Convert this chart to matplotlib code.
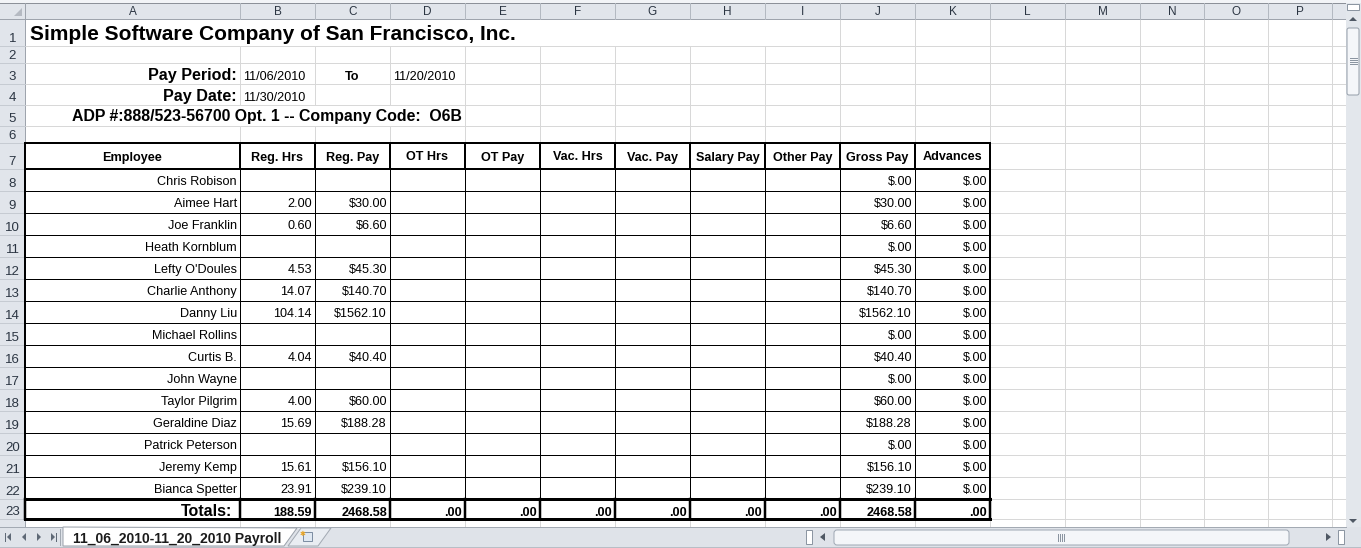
"""
payroll_sheet.py
----------------
Redraws the payroll worksheet screenshot (Excel 2010 look) with matplotlib.
"""

import matplotlib
matplotlib.use("Agg")
import matplotlib.pyplot as plt
from matplotlib.patches import Rectangle, Polygon, FancyBboxPatch

plt.rcParams["font.family"] = ["Liberation Sans", "DejaVu Sans"]

# ─── Sheet content ───────────────────────────────────────────────────────────
COMPANY      = "Simple Software Company of San Francisco, Inc."
PERIOD_START = "11/06/2010"
PERIOD_END   = "11/20/2010"
PAY_DATE     = "11/30/2010"
ADP_LINE     = "ADP #:888/523-56700 Opt. 1 -- Company Code:  O6B"
SHEET_NAME   = "11_06_2010-11_20_2010 Payroll"

COL_LETTERS = ["A", "B", "C", "D", "E", "F", "G", "H", "I", "J", "K",
               "L", "M", "N", "O", "P"]

HEADERS = ["Employee", "Reg. Hrs", "Reg. Pay", "OT Hrs", "OT Pay", "Vac. Hrs",
           "Vac. Pay", "Salary Pay", "Other Pay", "Gross Pay", "Advances"]

EMPLOYEES = ["Chris Robison", "Aimee Hart", "Joe Franklin", "Heath Kornblum",
             "Lefty O'Doules", "Charlie Anthony", "Danny Liu", "Michael Rollins",
             "Curtis B.", "John Wayne", "Taylor Pilgrim", "Geraldine Diaz",
             "Patrick Peterson", "Jeremy Kemp", "Bianca Spetter"]
REG_HRS   = [None, 2.00, 0.60, None, 4.53, 14.07, 104.14, None,
             4.04, None, 4.00, 15.69, None, 15.61, 23.91]
REG_PAY   = [None, 30.00, 6.60, None, 45.30, 140.70, 1562.10, None,
             40.40, None, 60.00, 188.28, None, 156.10, 239.10]
GROSS_PAY = [0.00, 30.00, 6.60, 0.00, 45.30, 140.70, 1562.10, 0.00,
             40.40, 0.00, 60.00, 188.28, 0.00, 156.10, 239.10]
ADVANCES  = [0.00, 0.00, 0.00, 0.00, 0.00, 0.00, 0.00, 0.00,
             0.00, 0.00, 0.00, 0.00, 0.00, 0.00, 0.00]
TOTALS    = [188.59, 2468.58, 0.00, 0.00, 0.00, 0.00, 0.00, 0.00, 2468.58, 0.00]

# ─── Layout (screen pixels) ──────────────────────────────────────────────────
W, H      = 1361, 548
COL_EDGES = [25, 240, 315, 390, 465, 540, 615, 690, 765, 840, 915, 990,
             1065, 1140, 1204, 1268, 1332]
ROW_EDGES = [19, 46, 63, 84, 105, 126, 143, 169, 191, 213, 235, 257, 279, 301,
             323, 345, 367, 389, 411, 433, 455, 477, 499, 519, 541]
SHEET_RIGHT = 1346
TAB_TOP     = 527
PX          = 0.72            # one pixel in points at dpi 100

GRID   = "#d8d8d8"
HDR_BG = "#e1e5eb"
HDR_LN = "#b3b9c1"
HDR_TX = "#2b3542"


def money(v):
    """Excel '$#.00' style: zero shows as $.00"""
    s = f"{v:.2f}"
    return "$" + (s.lstrip("0") if v < 1 else s)


def hours(v):
    return f"{v:.2f}"


def bare(v):
    s = f"{v:.2f}"
    return s.lstrip("0") if v < 1 else s


def cell_text(ax, col, row, s, ha="right", pad=3, off=6, **kw):
    left, right = COL_EDGES[col], COL_EDGES[col + 1]
    x = {"left": left + pad, "right": right - pad, "center": (left + right) / 2}[ha]
    y = ROW_EDGES[row] - off
    kw.setdefault("fontsize", 9.1)
    ax.text(x, y, s, ha=ha, va="baseline", color="black", zorder=5, **kw)


def draw_grid(ax):
    ax.add_patch(Rectangle((COL_EDGES[0], ROW_EDGES[0]), SHEET_RIGHT - COL_EDGES[0],
                           TAB_TOP - ROW_EDGES[0], facecolor="white", zorder=0))
    for y in ROW_EDGES[1:]:
        ax.plot([COL_EDGES[0], SHEET_RIGHT], [y, y], color=GRID, lw=PX, zorder=1)
    # merged / overflowing cells hide some vertical gridlines
    hidden = {1: COL_EDGES[1:9], 5: COL_EDGES[1:4]}
    for x in COL_EDGES[1:]:
        for r in range(1, len(ROW_EDGES)):
            if x in hidden.get(r, []):
                continue
            ax.plot([x, x], [ROW_EDGES[r - 1], ROW_EDGES[r]], color=GRID, lw=PX, zorder=1)


def draw_headers(ax):
    # column header strip
    ax.add_patch(Rectangle((0, 3), SHEET_RIGHT, ROW_EDGES[0] - 3,
                           facecolor=HDR_BG, edgecolor="none", zorder=2))
    ax.plot([0, W], [2.5, 2.5], color="#8c9199", lw=PX, zorder=3)
    ax.plot([0, SHEET_RIGHT], [ROW_EDGES[0], ROW_EDGES[0]], color="#9ea4ad", lw=PX, zorder=3)
    for i, letter in enumerate(COL_LETTERS):
        l, r = COL_EDGES[i], COL_EDGES[i + 1]
        ax.text((l + r) / 2, 15, letter, ha="center", va="baseline",
                fontsize=8.5, color=HDR_TX, zorder=4)
    for x in COL_EDGES:
        ax.plot([x, x], [3, ROW_EDGES[0]], color=HDR_LN, lw=PX, zorder=3)
    # row header strip
    ax.add_patch(Rectangle((0, 3), COL_EDGES[0], TAB_TOP - 3,
                           facecolor=HDR_BG, edgecolor="none", zorder=2))
    ax.plot([COL_EDGES[0], COL_EDGES[0]], [3, TAB_TOP], color="#9ea4ad", lw=PX, zorder=3)
    for r in range(1, len(ROW_EDGES)):
        ax.plot([0, COL_EDGES[0]], [ROW_EDGES[r], ROW_EDGES[r]], color="#c6cbd2",
                lw=PX, zorder=3)
        ax.text(COL_EDGES[0] / 2, ROW_EDGES[r] - 4, str(r), ha="center",
                va="baseline", fontsize=9.5, color=HDR_TX, zorder=4)
    # select-all corner triangle
    ax.add_patch(Polygon([(22, 8), (22, 16), (14, 16)], closed=True,
                         facecolor="#b5bac2", edgecolor="none", zorder=4))


def draw_top_block(ax):
    cell_text(ax, 0, 1, COMPANY, ha="left", pad=5, off=6, fontsize=15, fontweight="bold")
    cell_text(ax, 0, 3, "Pay Period:", off=4, fontsize=11.6, fontweight="bold")
    cell_text(ax, 1, 3, PERIOD_START, ha="left", off=4)
    cell_text(ax, 2, 3, "To", ha="center", off=4, fontweight="bold")
    cell_text(ax, 3, 3, PERIOD_END, ha="left", off=4)
    cell_text(ax, 0, 4, "Pay Date:", off=4, fontsize=11.6, fontweight="bold")
    cell_text(ax, 1, 4, PAY_DATE, ha="left", off=4)
    cell_text(ax, 3, 5, ADP_LINE, off=4.5, fontsize=11.4, fontweight="bold")


def draw_table(ax):
    head_row, first_row = 7, 8
    tot_row = first_row + len(EMPLOYEES)
    for c, h in enumerate(HEADERS):
        cell_text(ax, c, head_row, h, ha="center", off=8.5, fontweight="bold")
    for i, name in enumerate(EMPLOYEES):
        r = first_row + i
        cell_text(ax, 0, r, name)
        if REG_HRS[i] is not None:
            cell_text(ax, 1, r, hours(REG_HRS[i]))
        if REG_PAY[i] is not None:
            cell_text(ax, 2, r, money(REG_PAY[i]))
        cell_text(ax, 9, r, money(GROSS_PAY[i]))
        cell_text(ax, 10, r, money(ADVANCES[i]))
    cell_text(ax, 0, tot_row, "Totals:", pad=8, off=3.5, fontsize=11.5, fontweight="bold")
    for c, v in enumerate(TOTALS, start=1):
        cell_text(ax, c, tot_row, bare(v), off=3.5, fontweight="bold")

    left, right = COL_EDGES[0], COL_EDGES[len(HEADERS)]
    top = ROW_EDGES[head_row - 1]
    hb = ROW_EDGES[head_row]
    tt = ROW_EDGES[tot_row - 1]
    tb = ROW_EDGES[tot_row]
    # horizontal rules
    for y in ROW_EDGES[head_row + 1:tot_row - 1]:
        ax.plot([left, right], [y, y], color="black", lw=PX, zorder=6)
    ax.plot([left, right], [top, top], color="black", lw=2 * PX, zorder=7)
    ax.plot([left, right], [hb, hb], color="black", lw=2 * PX, zorder=7)
    ax.plot([left, right], [tt, tt], color="black", lw=3 * PX, zorder=7)
    ax.plot([left, right], [tb, tb], color="black", lw=3 * PX, zorder=7)
    # vertical rules
    for k, x in enumerate(COL_EDGES[:len(HEADERS) + 1]):
        edge = k in (0, len(HEADERS))
        ax.plot([x, x], [top, hb], color="black", lw=2 * PX, zorder=7)
        ax.plot([x, x], [hb, tt], color="black", lw=(2 if edge else 1) * PX, zorder=6)
        ax.plot([x, x], [tt, tb], color="black", lw=2.5 * PX, zorder=7)


def tri(ax, pts, color="#5f6976"):
    ax.add_patch(Polygon(pts, closed=True, facecolor=color, edgecolor="none", zorder=12))


def draw_chrome(ax):
    # sheet tab bar
    ax.add_patch(Rectangle((0, TAB_TOP), W, H - TAB_TOP, facecolor="#dfe3e9",
                           edgecolor="none", zorder=10))
    ax.plot([0, 1346], [TAB_TOP, TAB_TOP], color="#a3aab3", lw=PX, zorder=11)
    ax.plot([0, W], [546.5, 546.5], color="#b8bec6", lw=PX, zorder=11)
    ax.add_patch(Polygon([(63, TAB_TOP), (63, 546), (284, 546), (297, TAB_TOP + 1)],
                         closed=True, facecolor="white", edgecolor="#9aa1aa",
                         lw=PX, zorder=11))
    ax.add_patch(Polygon([(288, 546), (301, TAB_TOP + 1), (331, TAB_TOP + 1), (318, 546)],
                         closed=True, facecolor="#e9edf2", edgecolor="#a3aab3",
                         lw=PX, zorder=11))
    ax.add_patch(Rectangle((303, 532), 9, 9, facecolor="#dfe8f2", edgecolor="#7d8ea3",
                           lw=PX, zorder=12))
    ax.text(303, 534, "\u2731", fontsize=5, color="#e8a422", ha="center",
            va="center", zorder=13)
    ax.text(73, 542.5, SHEET_NAME, ha="left", va="baseline", fontsize=10.1,
            fontweight="bold", color="#1b1b1b", zorder=12)
    # tab navigation buttons
    ax.plot([5.5, 5.5], [533, 541], color="#5f6976", lw=PX, zorder=12)
    tri(ax, [(7, 537), (11, 533), (11, 541)])
    tri(ax, [(22, 537), (26, 533), (26, 541)])
    tri(ax, [(41, 537), (37, 533), (37, 541)])
    tri(ax, [(55, 537), (51, 533), (51, 541)])
    ax.plot([56.5, 56.5], [533, 541], color="#5f6976", lw=PX, zorder=12)
    ax.plot([60.5, 60.5], [529, 545], color="#a3aab3", lw=PX, zorder=12)

    # horizontal scroll bar
    ax.add_patch(Rectangle((806, 530), 6, 14, facecolor="white", edgecolor="#8c96a2",
                           lw=PX, zorder=12))
    tri(ax, [(820, 537), (825, 533), (825, 541)], "#4f5864")
    ax.add_patch(FancyBboxPatch((834, 530), 455, 15, boxstyle="round,pad=0,rounding_size=3",
                                facecolor="#f4f6f9", edgecolor="#a0a9b4", lw=PX, zorder=12))
    for gx in (1058, 1060, 1062, 1064):
        ax.plot([gx, gx], [534, 541], color="#8b95a1", lw=PX, zorder=13)
    tri(ax, [(1331, 537), (1326, 533), (1326, 541)], "#4f5864")
    ax.add_patch(Rectangle((1338, 530), 6, 14, facecolor="white", edgecolor="#8c96a2",
                           lw=PX, zorder=12))

    # vertical scroll bar
    ax.add_patch(Rectangle((SHEET_RIGHT, 3), W - SHEET_RIGHT, TAB_TOP - 3,
                           facecolor="#e3e7ec", edgecolor="none", zorder=10))
    ax.add_patch(Rectangle((1347, 3.5), 12, 6, facecolor="white", edgecolor="#8c96a2",
                           lw=PX, zorder=12))
    tri(ax, [(1353, 17), (1349, 21), (1357, 21)], "#4f5864")
    ax.add_patch(FancyBboxPatch((1347, 28), 12, 67, boxstyle="round,pad=0,rounding_size=2",
                                facecolor="#f4f6f9", edgecolor="#97a0ab", lw=PX, zorder=12))
    for gy in (58, 60, 62, 64):
        ax.plot([1350, 1357], [gy, gy], color="#8b95a1", lw=PX, zorder=13)
    tri(ax, [(1353, 523), (1349, 519), (1357, 519)], "#4f5864")


def build_sheet():
    fig = plt.figure(figsize=(W / 100, H / 100), dpi=100)
    ax = fig.add_axes([0, 0, 1, 1])
    ax.set_xlim(0, W)
    ax.set_ylim(H, 0)
    ax.axis("off")
    fig.patch.set_facecolor("#f2f4f7")

    draw_grid(ax)
    draw_headers(ax)
    draw_top_block(ax)
    draw_table(ax)
    draw_chrome(ax)

    fig.savefig("out.png", dpi=100)
    plt.close(fig)
    print("Saved: out.png")


if __name__ == "__main__":
    build_sheet()
